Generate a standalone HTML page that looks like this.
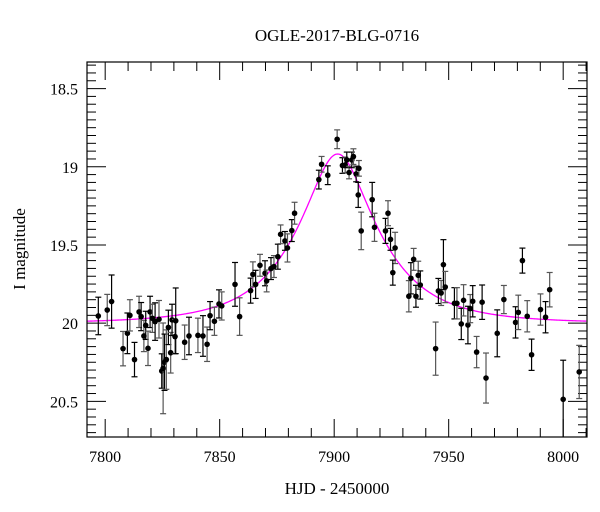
<!DOCTYPE html>
<html><head><meta charset="utf-8">
<style>
html,body{margin:0;padding:0;background:#fff;}
svg{display:block;font-family:"Liberation Serif",serif;}
</style></head>
<body>
<svg id="chart" width="600" height="512" viewBox="0 0 600 512">
<text x="337" y="41" text-anchor="middle" font-size="17">OGLE-2017-BLG-0716</text>
<text x="337" y="494" text-anchor="middle" font-size="17">HJD - 2450000</text>
<text transform="translate(25,249) rotate(-90)" text-anchor="middle" font-size="17">I magnitude</text>
<g id="ticks"></g>
<g id="curve"></g>
<g id="pts"></g>
<rect x="87" y="62" width="500" height="375" fill="none" stroke="#000" stroke-width="1.2"/>
</svg>
<script>
const hjd=[7797,7800.9,7802.8,7807.8,7809.7,7810.8,7812.8,7814.8,7815.7,7816.9,7817.7,7818.7,7819.6,7820.6,7821.8,7823.5,7824.7,7825.3,7825.9,7826.7,7827.6,7828.6,7829.2,7830.5,7830.8,7834.7,7836.6,7840.5,7842.7,7844.5,7845.8,7847.7,7849.7,7850.9,7856.7,7858.7,7863.5,7864.5,7865.7,7867.6,7869.8,7870.5,7872.4,7873.7,7875.4,7876.6,7878.5,7879.6,7881.5,7882.7,7893.3,7894.5,7897.2,7901.3,7903.6,7904.8,7905.5,7906.5,7907.7,7908.4,7909.6,7910.8,7910.5,7911.8,7916.6,7917.6,7922.4,7923.5,7924.6,7926.6,7925.6,7932.6,7933.5,7934.7,7935.7,7936.7,7937.6,7944.3,7945.5,7946.7,7947.7,7948.5,7952.5,7953.6,7955.5,7956.5,7958.4,7959.4,7960.5,7962.2,7964.6,7966.3,7971.2,7974.1,7979.2,7980.4,7982.2,7984.3,7986.2,7990.1,7992.3,7994.1,8000,8007];
const mags=[19.954,19.916,19.862,20.163,20.065,19.95,20.233,19.928,19.958,20.082,20.014,20.161,19.928,19.969,19.99,19.975,20.306,20.289,20.25,20.233,20.027,20.189,19.979,20.086,19.985,20.122,20.082,20.078,20.082,20.135,19.952,19.988,19.877,19.89,19.752,19.958,19.792,19.688,19.752,19.63,19.681,19.73,19.651,19.638,19.575,19.432,19.474,19.519,19.408,19.297,19.082,18.984,19.054,18.824,18.992,18.988,18.956,19.037,18.956,18.935,19.046,19.01,19.18,19.41,19.21,19.387,19.41,19.297,19.464,19.519,19.677,19.828,19.713,19.592,19.828,19.694,19.756,20.163,19.794,19.807,19.626,19.769,19.873,19.873,20.005,19.854,20.012,19.907,19.86,20.185,19.866,20.351,20.065,19.849,19.995,19.931,19.6,19.956,20.202,19.913,19.962,19.786,20.487,20.312];
const errs=[0.12,0.1,0.17,0.11,0.13,0.1,0.11,0.1,0.09,0.1,0.09,0.11,0.1,0.09,0.12,0.12,0.11,0.29,0.18,0.19,0.11,0.13,0.1,0.11,0.21,0.11,0.12,0.11,0.13,0.11,0.09,0.09,0.09,0.09,0.14,0.12,0.08,0.08,0.09,0.07,0.08,0.07,0.07,0.07,0.08,0.06,0.06,0.09,0.07,0.07,0.06,0.05,0.06,0.06,0.05,0.05,0.05,0.04,0.05,0.05,0.05,0.05,0.08,0.12,0.11,0.09,0.08,0.08,0.07,0.1,0.08,0.1,0.1,0.07,0.07,0.09,0.09,0.17,0.08,0.08,0.16,0.1,0.1,0.1,0.1,0.1,0.12,0.09,0.1,0.1,0.11,0.16,0.15,0.09,0.1,0.11,0.08,0.1,0.1,0.1,0.1,0.11,0.25,0.17];
const modelParams=[7901.5,0.39,33,20.0]; // t0, u0, tE, baseline
const xTickLabels=[7800,7850,7900,7950,8000];
const yTickLabels=[18.5,19,19.5,20,20.5];

const L=87,R=587,T=62,B=437;
const xMin=7792.06, xMax=8010.4, yMin=18.33, yMax=20.728;
const X=v=>L+(v-xMin)/(xMax-xMin)*(R-L);
const Y=m=>T+(m-yMin)/(yMax-yMin)*(B-T);
const NS="http://www.w3.org/2000/svg";
function mk(tag,attrs,parent){const e=document.createElementNS(NS,tag);for(const k in attrs)e.setAttribute(k,attrs[k]);parent.appendChild(e);return e;}

const tg=document.getElementById('ticks');
for(let v=7800;v<=8010;v+=10){
  const major=(v%50===0);const len=major?18:9;const x=X(v);
  const t1=mk('line',{x1:x,x2:x,y1:B,y2:B-len,stroke:'#000','stroke-width':1},tg);
  
  
  const t2=mk('line',{x1:x,x2:x,y1:T,y2:T+len,stroke:'#000','stroke-width':1},tg);
  
  
}
xTickLabels.forEach(v=>{
  const t=mk('text',{x:X(v),y:462,'text-anchor':'middle','font-size':16},tg);t.textContent=v;
  
  
});
for(let i=0;i<=48;i++){
  const m=18.35+i*0.05;if(m>yMax)break;
  const major=Math.abs(m*2-Math.round(m*2))<1e-6;const len=major?19:9;const y=Y(m);
  const t1=mk('line',{x1:L,x2:L+len,y1:y,y2:y,stroke:'#000','stroke-width':1},tg);
  
  
  const t2=mk('line',{x1:R,x2:R-len,y1:y,y2:y,stroke:'#000','stroke-width':1},tg);
  
  
}
yTickLabels.forEach(m=>{
  const t=mk('text',{x:78,y:Y(m)+6,'text-anchor':'end','font-size':16},tg);t.textContent=m;
  
  
});

// model curve
function model(t){const [t0,u0,tE,base]=modelParams;const tau=(t-t0)/tE;const u=Math.sqrt(u0*u0+tau*tau);const A=(u*u+2)/(u*Math.sqrt(u*u+4));return base-2.5*Math.log10(A);}
let d='';for(let t=xMin;t<=xMax;t+=0.5){d+=(d?'L':'M')+X(t).toFixed(2)+','+Y(model(t)).toFixed(2);}
const cp=mk('path',{d:d,fill:'none',stroke:'#ff00ff','stroke-width':1.3},document.getElementById('curve'));



// points
const pg=document.getElementById('pts');
const clip=mk('clipPath',{id:'pc'},pg);mk('rect',{x:L,y:T,width:R-L,height:B-T},clip);
pg.setAttribute('clip-path','url(#pc)');
hjd.forEach((t,i)=>{
  const x=X(t),y=Y(mags[i]),y1=Y(mags[i]-errs[i]),y2=Y(mags[i]+errs[i]);
  const col=(i%2)?'#555':'#000';
  const g=mk('g',{},pg);
  
  
  mk('line',{x1:x,x2:x,y1:y1,y2:y2,stroke:col,'stroke-width':1.2},g);
  mk('line',{x1:x-3,x2:x+3,y1:y1,y2:y1,stroke:col,'stroke-width':1.2},g);
  mk('line',{x1:x-3,x2:x+3,y1:y2,y2:y2,stroke:col,'stroke-width':1.2},g);
  mk('circle',{cx:x,cy:y,r:2.8,fill:'#000'},g);
});
</script>
</body></html>
